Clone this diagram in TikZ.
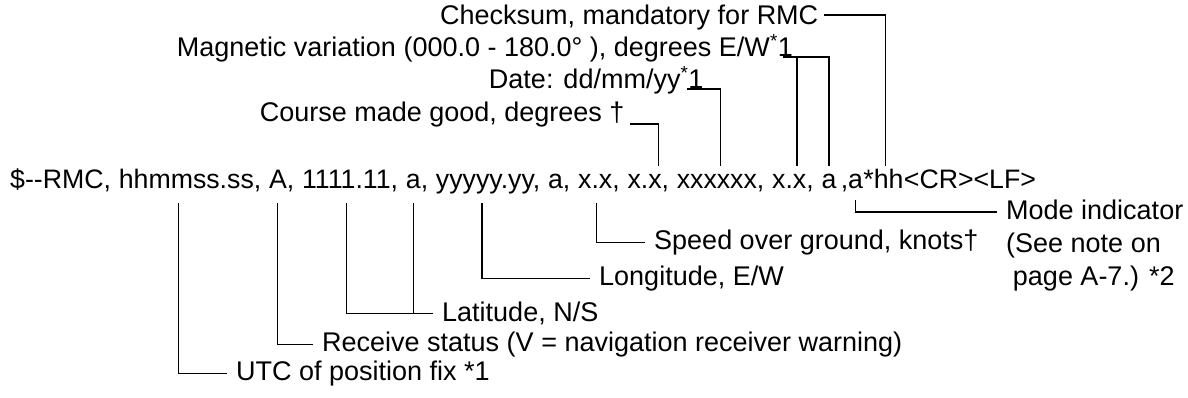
\documentclass[tikz,border=0pt]{standalone}
\usepackage{fontspec}
\setmainfont{Liberation Sans}
\usetikzlibrary{positioning, calc}
\tikzstyle{field} = [
    inner sep=0pt,
    font=\fontsize{26.7}{33}\selectfont
]
\tikzstyle{upnote} = [
    inner sep=0pt,
    anchor=base east,
    font=\fontsize{27}{33}\selectfont
]
\tikzstyle{downnote} = [
    inner ysep=0pt,
    inner xsep=9pt,
    anchor=mid west,
    font=\fontsize{27}{33}\selectfont
]
\tikzstyle{leader} = [line width=1.3pt]

\begin{document}
\begin{tikzpicture}[x=1pt, y=-1pt, node distance=7.4pt]
\useasboundingbox (0,0) rectangle (1188,398);

% the sentence, field by field
\node (talker) [field, anchor=base west] at (10,189) {\$-{}-RMC,};
\node (hms) [field, base right=of talker] {hhmmss.ss,};
\node (stat) [field, base right=of hms] {A,};
\node (latv) [field, base right=of stat] {1111.11,};
\node (ns) [field, base right=of latv] {a,};
\node (lonv) [field, base right=of ns] {yyyyy.yy,};
\node (ew) [field, base right=of lonv] {a,};
\node (sogv) [field, base right=of ew] {x.x,};
\node (cogv) [field, base right=of sogv] {x.x,};
\node (datev) [field, base right=of cogv] {xxxxxx,};
\node (magv) [field, base right=of datev] {x.x,};
\node (magdir) [field, base right=of magv] {a};
\node (modev) [field, base right=4pt of magdir] {,a};
\node (csumv) [field, base right=0pt of modev] {*hh};
\node (crlf) [field, base right=0pt of csumv] {<CR><LF>};

% points on the sentence
\coordinate (p-cog) at ($(cogv.base west)!0.75!(cogv.base east)+(0,-23)$);
\coordinate (p-date) at ($(datev.base west)!0.5!(datev.base east)+(0,-23)$);
\coordinate (p-mag1) at ($(magv.base west)!0.6!(magv.base east)+(0,-23)$);
\coordinate (p-mag2) at ($(magdir.base)+(0,-23)$);
\coordinate (p-csum) at ($(csumv.base west)!0.55!(csumv.base east)+(0,-23)$);
\coordinate (p-utc) at ($(hms.base west)!0.42!(hms.base east)+(0,14)$);
\coordinate (p-stat) at ($(stat.base west)!0.35!(stat.base east)+(0,14)$);
\coordinate (p-lat1) at ($(latv.base west)!0.46!(latv.base east)+(0,14)$);
\coordinate (p-lat2) at ($(ns.base west)!0.33!(ns.base east)+(0,14)$);
\coordinate (p-lon) at ($(lonv.base west)!0.44!(lonv.base east)+(0,14)$);
\coordinate (p-sog) at ($(sogv.base west)!0.45!(sogv.base east)+(0,14)$);
\coordinate (p-mode) at ($(modev.base west)!0.67!(modev.base east)+(0,11)$);

% fields above the sentence
\node (csum) [upnote] at ($(p-csum)+(-67,-141)$) {Checksum, mandatory for RMC};
\node (magvar) [upnote] at ($(p-mag1)+(-4,-109)$)
{Magnetic variation (000.0 - 180.0° ), degrees E/W\textsuperscript{*}1};
\node (date) [upnote] at ($(p-date)+(-17,-77)$) {Date: dd/mm/yy\textsuperscript{*}1};
\node (cog) [upnote] at ($(p-cog)+(-34,-44)$) {Course made good, degrees †};

% fields below the sentence
\node (sog) [downnote] at (645,247) {Speed over ground, knots†};
\node (lon) [downnote] at (590,283) {Longitude, E/W};
\node (lat) [downnote] at (433,319) {Latitude, N/S};
\node (status) [downnote] at (313,349)
{Receive status (V = navigation receiver warning)};
\node (utc) [downnote] at (227,378) {UTC of position fix *1};
\node (mode) [downnote, anchor=north west, align=left] at (997,200)
{Mode indicator\\(See note on\\\hspace{0.25em}page A-7.) *2};

\draw [leader] ([xshift=6pt,yshift=10pt]csum.base east) -| (p-csum);
\draw [leader] ([xshift=-10pt]magvar.base east) -| (p-mag2);
\draw [leader] (p-mag1) -- (p-mag1 |- magvar.base);
\draw [leader] ([xshift=-17pt]date.base east) -| (p-date);
\draw [leader] ([xshift=5pt,yshift=-2pt]cog.base east) -| (p-cog);

\draw [leader] (p-utc) |- (utc.west);
\draw [leader] (p-stat) |- (status.west);
\draw [leader] (p-lat1) |- (lat.west);
\draw [leader] (p-lat2) -- (p-lat2 |- lat.west);
\draw [leader] (p-lon) |- (lon.west);
\draw [leader] (p-sog) |- (sog.west);
\draw [leader] (p-mode) |- ([yshift=-12pt]mode.north west);

\end{tikzpicture}
\end{document}
